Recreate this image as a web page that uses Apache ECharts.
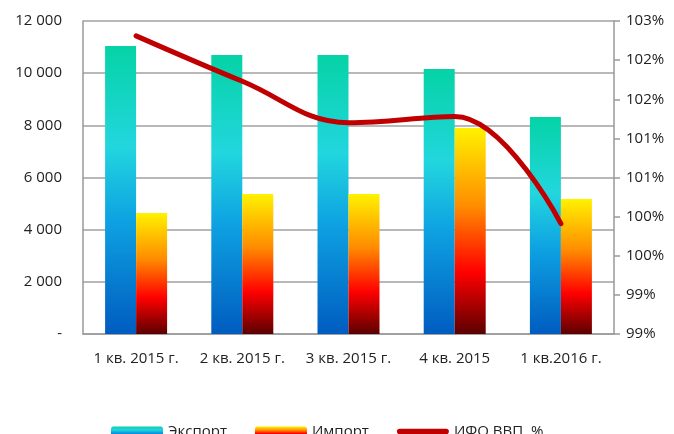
<!DOCTYPE html>
<html>
<head>
<meta charset="utf-8">
<script src="https://cdn.jsdelivr.net/npm/echarts@6/dist/echarts.min.js"></script>
<style>
  html, body { margin: 0; padding: 0; background: #fff; }
  #main { width: 674px; height: 434px; }
</style>
</head>
<body>
<div id="main"></div>
<script>
var categories = ['1 кв. 2015 г.', '2 кв. 2015 г.', '3 кв. 2015 г.', '4 кв. 2015', '1 кв.2016 г.'];
var exportValues = [11040, 10700, 10700, 10160, 8320];
var importValues = [4640, 5370, 5370, 7900, 5180];
var ifoValues = [102.31, 101.73, 101.2, 101.28, 99.91];

var font = 'Open Sans';

function fmtThousands(v) {
    if (v === 0) return '-';
    return String(v).replace(/\B(?=(\d{3})+(?!\d))/g, ' ');
}

var exportGrad = new echarts.graphic.LinearGradient(0, 0, 0, 1, [
    {offset: 0, color: '#05D3A6'},
    {offset: 0.35, color: '#22D6DE'},
    {offset: 0.6, color: '#0EA3E2'},
    {offset: 1, color: '#005CC0'}
]);
var importGrad = new echarts.graphic.LinearGradient(0, 0, 0, 1, [
    {offset: 0, color: '#FFF200'},
    {offset: 0.38, color: '#FF8C00'},
    {offset: 0.7, color: '#FF0000'},
    {offset: 1, color: '#5C0000'}
]);

var myChart = echarts.init(document.getElementById('main'));

var option = {
    animation: false,
    textStyle: {fontFamily: font},
    grid: {left: 83, right: 60, top: 21, bottom: 100},
    legend: {
        top: 419,
        left: 106,
        itemWidth: 52,
        itemHeight: 10,
        itemGap: 28,
        textStyle: {fontFamily: font, fontSize: 15, color: '#222'},
        data: [
            {name: 'Экспорт'},
            {name: 'Импорт'},
            {name: 'ИФО ВВП, %', icon: 'path://M3,0 H53 A3,3 0 0 1 53,6 H3 A3,3 0 0 1 3,0 Z',
             itemStyle: {color: '#C00000'}}
        ]
    },
    xAxis: {
        type: 'category',
        data: categories,
        axisLine: {lineStyle: {color: '#999', width: 1.5}},
        axisTick: {show: false},
        axisLabel: {fontFamily: font, fontSize: 15, color: '#222', margin: 17, interval: 0}
    },
    yAxis: [
        {
            type: 'value',
            min: 0,
            max: 12000,
            interval: 2000,
            axisLine: {show: true, lineStyle: {color: '#999', width: 1.5}},
            axisTick: {show: false},
            splitLine: {lineStyle: {color: '#A0A0A0', width: 1.5}},
            axisLabel: {
                fontFamily: font, fontSize: 15, color: '#222', margin: 21,
                formatter: fmtThousands
            }
        },
        {
            type: 'value',
            min: 98.5,
            max: 102.5,
            interval: 0.5,
            position: 'right',
            axisLine: {show: true, lineStyle: {color: '#999', width: 1.5}},
            axisTick: {show: true, length: 6, lineStyle: {color: '#999', width: 1.5}},
            splitLine: {show: false},
            axisLabel: {
                fontFamily: font, fontSize: 15, color: '#222', margin: 12,
                formatter: function (v) { return Math.round(v) + '%'; }
            }
        }
    ],
    series: [
        {
            name: 'Экспорт',
            type: 'bar',
            data: exportValues,
            barWidth: 31,
            barGap: '0%',
            itemStyle: {color: exportGrad}
        },
        {
            name: 'Импорт',
            type: 'bar',
            data: importValues,
            barWidth: 31,
            barGap: '0%',
            itemStyle: {color: importGrad}
        },
        {
            name: 'ИФО ВВП, %',
            type: 'line',
            yAxisIndex: 1,
            data: ifoValues,
            smooth: 0.4,
            showSymbol: false,
            symbol: 'none',
            lineStyle: {color: '#C00000', width: 5, cap: 'round'},
            itemStyle: {color: '#C00000'}
        }
    ]
};
myChart.setOption(option);
</script>
</body>
</html>
